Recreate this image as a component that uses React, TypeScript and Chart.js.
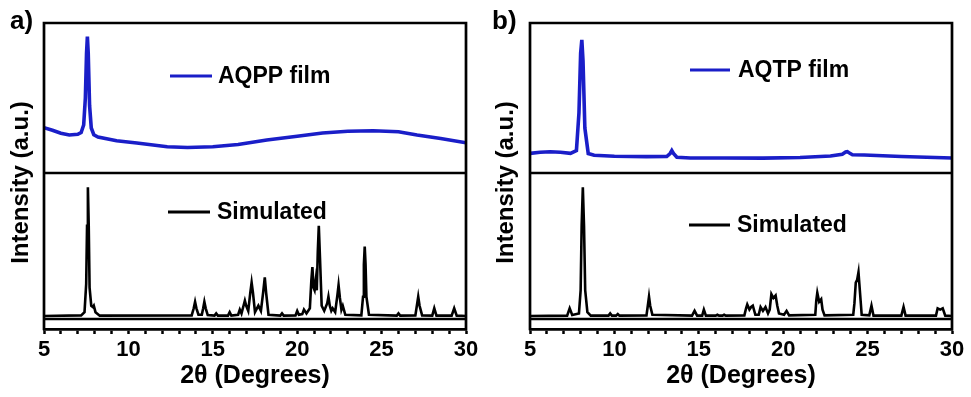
import React, { useEffect, useRef } from 'react';
import { Chart, registerables } from 'chart.js';

Chart.register(...registerables);

// ---------- data ----------
const xTickValues = [5, 10, 15, 20, 25, 30];

// panel a) AQPP film (blue), [2θ, intensity]
const aqppFilm: [number, number][] = [
  [5.0, 30.2], [5.5, 28.5], [6.0, 26.5], [6.5, 25.3], [7.0, 25.8], [7.2, 27], [7.35, 32],
  [7.45, 50], [7.52, 80], [7.57, 91], [7.62, 80], [7.7, 45], [7.8, 30], [7.95, 25.5],
  [8.2, 24], [9.3, 21.5], [10.5, 20], [12.3, 17.5], [13.5, 17], [15.0, 17.5], [16.5, 19],
  [18.2, 22], [20.0, 24.5], [21.5, 26.7], [23.0, 27.8], [24.5, 28.2], [26.0, 27.5],
  [27.1, 25.3], [28.5, 23], [30.0, 20.2],
];

// panel a) simulated pattern (black)
const aqppSim: [number, number][] = [
  [5, 0], [7.2, 0.5], [7.4, 3], [7.5, 25], [7.55, 70], [7.6, 100], [7.65, 70], [7.7, 22],
  [7.8, 8], [7.9, 7], [7.95, 8], [8.05, 3], [8.3, 0.3],
  [13.75, 0.5], [13.87, 6], [13.95, 11], [14.03, 6], [14.15, 1], [14.35, 1], [14.43, 6],
  [14.5, 11], [14.58, 6], [14.7, 0.8], [15.1, 0.3], [15.2, 2], [15.3, 0.3], [15.9, 0.3],
  [16.0, 3], [16.1, 0.4], [16.5, 1], [16.6, 5], [16.7, 2], [16.82, 8], [16.9, 12],
  [16.98, 8], [17.1, 4], [17.22, 18], [17.3, 26], [17.38, 18], [17.5, 3], [17.7, 8],
  [17.85, 4], [17.98, 18], [18.08, 30], [18.16, 18], [18.3, 1], [19.0, 0.3], [19.1, 2],
  [19.2, 0.3], [19.9, 0.5], [20.0, 4], [20.1, 1], [20.3, 1.5], [20.4, 5], [20.55, 2],
  [20.75, 6], [20.84, 28], [20.9, 38], [20.97, 22], [21.03, 20], [21.1, 28], [21.16, 20],
  [21.22, 50], [21.28, 70], [21.35, 45], [21.45, 8], [21.6, 4], [21.78, 10], [21.85, 15],
  [21.93, 8], [22.02, 4], [22.1, 6], [22.25, 3], [22.38, 16], [22.45, 24], [22.53, 14],
  [22.62, 5], [22.7, 8], [22.85, 1], [23.8, 0.5], [23.9, 15], [23.95, 40], [24.0, 54],
  [24.05, 40], [24.1, 15], [24.25, 1], [25.9, 0.3], [26.0, 2], [26.1, 0.3], [27.0, 0.5],
  [27.1, 9], [27.17, 15], [27.25, 8], [27.4, 0.5], [28.0, 0.3], [28.12, 6], [28.25, 0.3],
  [29.15, 0.3], [29.3, 6], [29.45, 0.3], [30, 0],
];

// panel b) AQTP film (blue)
const aqtpFilm: [number, number][] = [
  [5.0, 13.1], [5.6, 13.8], [6.2, 14.2], [6.8, 13.8], [7.4, 13.1], [7.75, 15], [7.9, 40],
  [8.0, 80], [8.07, 88.7], [8.14, 75], [8.25, 30], [8.45, 13], [8.8, 11.8], [10.0, 11.2],
  [11.9, 10.9], [13.1, 11], [13.3, 13], [13.4, 14.9], [13.5, 13], [13.7, 10.5], [14.5, 10],
  [16.5, 10], [18.8, 9.9], [21.0, 10.3], [22.8, 11.3], [23.5, 12.5], [23.7, 14],
  [23.8, 14.2], [23.9, 13.5], [24.1, 12.2], [24.8, 12], [27.0, 11], [30.0, 10],
];

// panel b) simulated pattern (black)
const aqtpSim: [number, number][] = [
  [5, 0], [7.2, 0.3], [7.35, 6], [7.5, 0.8], [7.9, 2], [8.0, 20], [8.06, 70], [8.13, 100],
  [8.2, 70], [8.27, 20], [8.4, 3], [8.6, 0.3], [9.65, 0.3], [9.75, 2], [9.85, 0.3],
  [10.1, 0.3], [10.2, 1.5], [10.3, 0.3], [11.9, 0.5], [11.98, 8], [12.05, 15], [12.12, 8],
  [12.25, 1], [14.6, 0.3], [14.75, 4], [14.9, 0.3], [15.2, 0.3], [15.3, 5], [15.42, 0.3],
  [16.0, 0.3], [16.1, 1], [16.2, 0.3], [16.4, 0.3], [16.5, 1], [16.6, 0.3], [17.7, 0.5],
  [17.8, 6], [17.87, 9], [18.0, 5], [18.1, 7], [18.2, 8], [18.35, 1], [18.55, 1],
  [18.66, 7], [18.8, 4], [18.95, 7], [19.1, 2], [19.2, 5], [19.3, 17], [19.42, 14],
  [19.55, 16], [19.65, 8], [19.75, 2], [20.05, 1], [20.2, 4], [20.35, 0.5], [21.9, 1],
  [21.96, 12], [22.02, 18], [22.13, 11], [22.25, 13], [22.33, 5], [22.45, 0.5], [24.15, 1],
  [24.22, 10], [24.3, 26], [24.38, 28], [24.46, 34], [24.54, 20], [24.65, 1], [25.1, 0.5],
  [25.23, 8], [25.35, 0.3], [27.0, 0.3], [27.13, 7], [27.25, 0.3], [29.05, 0.3],
  [29.15, 6], [29.3, 5], [29.45, 6], [29.6, 0.3], [30, 0],
];

const panelLetters = ['a)', 'b)'];
const filmLabels = ['AQPP film', 'AQTP film'];
const simLabel = 'Simulated';
const xTitle = '2θ (Degrees)';
const yTitle = 'Intensity (a.u.)';

// ---------- styles ----------
const BLUE = '#1a1ec8';
const FONT = "Arial, 'Liberation Sans', Helvetica, sans-serif";

type LegendPos = { x1: number; x2: number; tx: number; y: number };

const decorPlugin = {
  id: 'xrdDecor',
  afterDraw(chart: any, _args: any, opts: any) {
    const { ctx, chartArea } = chart;
    const { left, right, top, bottom } = chartArea;
    const yFilm = chart.scales.yFilm;
    const ySim = chart.scales.ySim;
    ctx.save();
    // frame
    ctx.strokeStyle = '#000';
    ctx.lineWidth = 2.7;
    ctx.lineCap = 'square';
    ctx.beginPath();
    ctx.moveTo(left, bottom);
    ctx.lineTo(left, top);
    ctx.lineTo(right, top);
    ctx.lineTo(right, bottom);
    ctx.moveTo(left, yFilm.bottom);
    ctx.lineTo(right, yFilm.bottom);
    ctx.moveTo(left, ySim.bottom);
    ctx.lineTo(right, ySim.bottom);
    ctx.stroke();

    // legends
    const positions: LegendPos[] = opts.legend || [];
    chart.data.datasets.forEach((ds: any, i: number) => {
      const p = positions[i];
      if (!p) return;
      ctx.strokeStyle = ds.borderColor;
      ctx.lineWidth = 3.2;
      ctx.lineCap = 'butt';
      ctx.beginPath();
      ctx.moveTo(p.x1, p.y);
      ctx.lineTo(p.x2, p.y);
      ctx.stroke();
      ctx.fillStyle = '#000';
      ctx.font = `bold 23px ${FONT}`;
      ctx.textAlign = 'left';
      ctx.textBaseline = 'middle';
      ctx.fillText(ds.label, p.tx, p.y + 1);
    });

    // panel letter
    ctx.fillStyle = '#000';
    ctx.font = `bold 26px ${FONT}`;
    ctx.textAlign = 'left';
    ctx.textBaseline = 'alphabetic';
    ctx.fillText(opts.letter, opts.letterX, 29);

    // y title
    ctx.save();
    ctx.translate(opts.yTitleX, 182.5);
    ctx.rotate(-Math.PI / 2);
    ctx.font = `bold 24px ${FONT}`;
    ctx.textAlign = 'center';
    ctx.textBaseline = 'middle';
    ctx.fillText(yTitle, 0, 0);
    ctx.restore();

    ctx.restore();
  },
};

function toPts(arr: [number, number][]) {
  return arr.map(([x, y]) => ({ x, y }));
}

function makeConfig(idx: number): any {
  const film = idx === 0 ? aqppFilm : aqtpFilm;
  const sim = idx === 0 ? aqppSim : aqtpSim;
  const legend: LegendPos[] =
    idx === 0
      ? [
          { x1: 170, x2: 212, tx: 218, y: 76 },
          { x1: 168, x2: 210, tx: 217, y: 212 },
        ]
      : [
          { x1: 204, x2: 244, tx: 252, y: 70 },
          { x1: 203, x2: 244, tx: 251, y: 225 },
        ];
  return {
    type: 'line',
    data: {
      datasets: [
        {
          label: filmLabels[idx],
          data: toPts(film),
          yAxisID: 'yFilm',
          borderColor: BLUE,
          borderWidth: 3.6,
          pointRadius: 0,
          tension: 0,
          fill: false,
        },
        {
          label: simLabel,
          data: toPts(sim),
          yAxisID: 'ySim',
          borderColor: '#000',
          borderWidth: 2.6,
          pointRadius: 0,
          tension: 0,
          fill: false,
        },
      ],
    },
    options: {
      animation: false,
      responsive: false,
      maintainAspectRatio: false,
      layout: { padding: { left: 44, right: 19, top: 23, bottom: 0 } },
      plugins: {
        legend: { display: false },
        tooltip: { enabled: false },
        title: { display: false },
        xrdDecor: {
          legend,
          letter: panelLetters[idx],
          letterX: idx === 0 ? 10 : 6,
          yTitleX: idx === 0 ? 21 : 20,
        },
      },
      scales: {
        x: {
          type: 'linear',
          position: 'bottom',
          min: 5,
          max: 30,
          afterFit: (s: any) => {
            s.height = 68;
          },
          ticks: {
            stepSize: 1,
            autoSkip: false,
            maxRotation: 0,
            minRotation: 0,
            padding: 3,
            color: '#000',
            font: { family: FONT, size: 22, weight: 'bold' },
            callback: (v: number) => (xTickValues.includes(Math.round(v * 1000) / 1000) ? String(v) : ''),
          },
          grid: {
            drawOnChartArea: false,
            drawTicks: true,
            tickLength: 5,
            tickWidth: 2.5,
            tickColor: '#000',
          },
          border: { display: true, color: '#000', width: 2.7 },
          title: {
            display: true,
            text: xTitle,
            color: '#000',
            font: { family: FONT, size: 25, weight: 'bold' },
            padding: { top: 0, bottom: 6 },
          },
        },
        // stacked y axes: listed bottom-to-top
        yPad: {
          type: 'linear',
          position: 'left',
          stack: 'xrd',
          stackWeight: 10,
          min: 0,
          max: 1,
          display: false,
        },
        ySim: {
          type: 'linear',
          position: 'left',
          stack: 'xrd',
          stackWeight: 146,
          min: -2.3,
          max: 111,
          display: false,
        },
        yFilm: {
          type: 'linear',
          position: 'left',
          stack: 'xrd',
          stackWeight: 150,
          min: 0,
          max: 100,
          display: false,
        },
      },
    },
    plugins: [decorPlugin],
  };
}

function Panel({ idx, left }: { idx: number; left: number }) {
  const ref = useRef<HTMLCanvasElement | null>(null);
  useEffect(() => {
    if (!ref.current) return;
    const chart = new Chart(ref.current, makeConfig(idx));
    return () => chart.destroy();
  }, [idx]);
  return (
    <div style={{ position: 'absolute', left, top: 0, width: 485, height: 397 }}>
      <canvas ref={ref} width={485} height={397} style={{ width: 485, height: 397, display: 'block' }} />
    </div>
  );
}

export default function App() {
  return (
    <div
      style={{
        position: 'fixed',
        left: 0,
        top: 0,
        width: 971,
        height: 397,
        background: '#fff',
        overflow: 'hidden',
      }}
    >
      <Panel idx={0} left={0} />
      <Panel idx={1} left={486} />
    </div>
  );
}
